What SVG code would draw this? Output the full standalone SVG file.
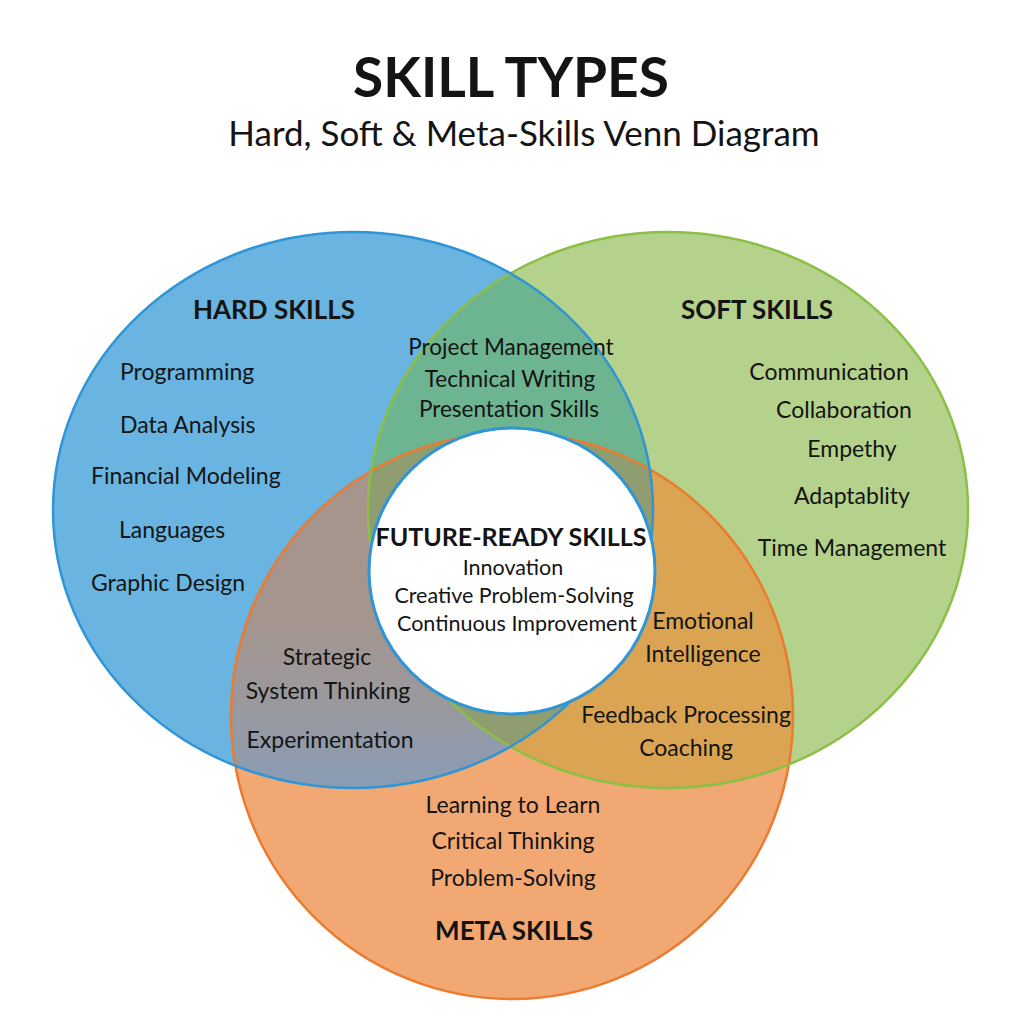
<svg xmlns="http://www.w3.org/2000/svg" xmlns:xlink="http://www.w3.org/1999/xlink" width="1024" height="1024" viewBox="0 0 1024 1024">
  <style>
    text { font-family: Lato, "Open Sans", "Liberation Sans", sans-serif; fill: #141414; text-anchor: middle; }
    .t { font-size: 23px; }
    .m { font-size: 22.5px; }
    .c { font-size: 21.5px; }
    .h { font-size: 26px; font-weight: bold; }
    .hc { font-size: 25px; font-weight: bold; }
    .title { font-size: 55px; font-weight: bold; }
    .sub { font-size: 35px; }
    .s { text-anchor: start; }
  </style>
  <defs>
    <ellipse id="blue" cx="353" cy="510" rx="300" ry="278"/>
    <ellipse id="green" cx="668" cy="510" rx="300" ry="278"/>
    <ellipse id="orange" cx="512" cy="716" rx="281" ry="283"/>
    <clipPath id="cB"><use xlink:href="#blue"/></clipPath>
    <clipPath id="cG"><use xlink:href="#green"/></clipPath>
    <linearGradient id="gBO" gradientUnits="userSpaceOnUse" x1="0" y1="610" x2="0" y2="780">
      <stop offset="0" stop-color="#a6958c"/>
      <stop offset="0.5" stop-color="#9b989c"/>
      <stop offset="1" stop-color="#8b9cb2"/>
    </linearGradient>
  </defs>
  <rect width="1024" height="1024" fill="#ffffff"/>

  <g id="title">
    <text class="title" x="511" y="97">SKILL TYPES</text>
    <text class="sub" x="524" y="146">Hard, Soft &amp; Meta-Skills Venn Diagram</text>
  </g>

  <g id="fills">
    <use xlink:href="#blue" fill="#69b4e0"/>
    <use xlink:href="#green" fill="#b4d28b"/>
    <use xlink:href="#orange" fill="#f2a873"/>
    <use xlink:href="#green" fill="#6db490" clip-path="url(#cB)"/>
    <use xlink:href="#orange" fill="url(#gBO)" clip-path="url(#cB)"/>
    <use xlink:href="#orange" fill="#daa452" clip-path="url(#cG)"/>
    <g clip-path="url(#cB)"><use xlink:href="#orange" fill="#909d70" clip-path="url(#cG)"/></g>
  </g>

  <g id="outlines" fill="none" stroke-width="2.5">
    <use xlink:href="#orange" stroke="#ec7b2f"/>
    <use xlink:href="#green" stroke="#8cbf45"/>
    <use xlink:href="#blue" stroke="#2f95d6"/>
  </g>

  <g id="hard-skills">
    <text class="h" x="274" y="319">HARD SKILLS</text>
    <text class="t s" x="120" y="380">Programming</text>
    <text class="t s" x="120" y="433">Data Analysis</text>
    <text class="t s" x="91" y="484">Financial Modeling</text>
    <text class="t s" x="119" y="538">Languages</text>
    <text class="t s" x="91" y="591">Graphic Design</text>
  </g>

  <g id="soft-skills">
    <text class="h" x="757" y="319">SOFT SKILLS</text>
    <text class="t" x="829" y="380">Communication</text>
    <text class="t" x="844" y="418">Collaboration</text>
    <text class="t" x="852" y="457">Empethy</text>
    <text class="t" x="852" y="504">Adaptablity</text>
    <text class="t" x="852" y="556">Time Management</text>
  </g>

  <g id="hard-soft">
    <text class="m" x="511" y="355">Project Management</text>
    <text class="m" x="510" y="387">Technical Writing</text>
    <text class="m" x="509" y="417">Presentation Skills</text>
  </g>

  <g id="hard-meta">
    <text class="t" x="327" y="665">Strategic</text>
    <text class="t" x="328" y="699">System Thinking</text>
    <text class="t" x="330" y="748">Experimentation</text>
  </g>

  <g id="soft-meta">
    <text class="t" x="703" y="629">Emotional</text>
    <text class="t" x="703" y="662">Intelligence</text>
    <text class="t" x="686" y="723">Feedback Processing</text>
    <text class="t" x="686" y="756">Coaching</text>
  </g>

  <g id="meta-skills">
    <text class="t" x="513" y="813">Learning to Learn</text>
    <text class="t" x="513" y="849">Critical Thinking</text>
    <text class="t" x="513" y="886">Problem-Solving</text>
    <text class="h" x="514" y="940">META SKILLS</text>
  </g>

  <g id="future-ready">
    <circle cx="512" cy="571" r="143" fill="#ffffff" stroke="#2f95d6" stroke-width="3"/>
    <text class="hc" x="511" y="546">FUTURE-READY SKILLS</text>
    <text class="c" x="513" y="575">Innovation</text>
    <text class="c" x="514" y="603">Creative Problem-Solving</text>
    <text class="c" x="517" y="631">Continuous Improvement</text>
  </g>
</svg>
